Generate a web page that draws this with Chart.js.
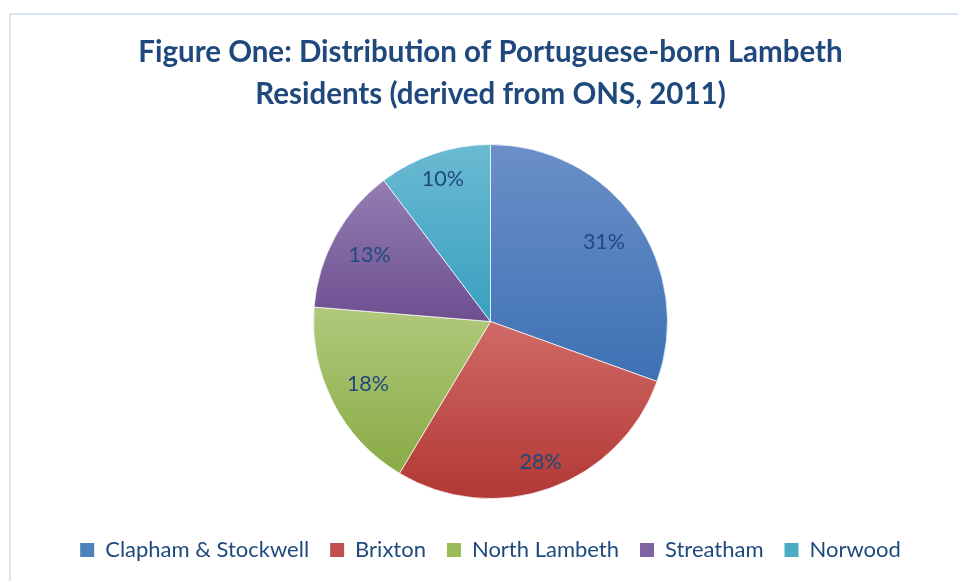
<!DOCTYPE html>
<html>
<head>
<meta charset="utf-8">
<script src="https://cdn.jsdelivr.net/npm/chart.js@4.4.1/dist/chart.umd.min.js"></script>
<style>
    body { margin: 0; background: #fff; overflow: hidden; }
    #wrap { position: relative; width: 958px; height: 581px; }
    #frame { position: absolute; left: 9px; top: 13px; width: 1000px; height: 700px; border: 2px solid #dce6f2; box-sizing: border-box; }
</style>
</head>
<body>
<div id="wrap">
    <div id="frame"></div>
    <canvas id="pieChart"></canvas>
</div>
<script>
// areas and their share of Portuguese-born residents
const areas = ["Clapham & Stockwell", "Brixton", "North Lambeth", "Streatham", "Norwood"];
const shares = [30.5, 28.1, 17.7, 13.4, 10.3];

const baseColours = ["#4f81bd", "#c0504d", "#9bbb59", "#8064a2", "#4bacc6"];
const topColours = ["#6b8fc8", "#d06a66", "#b0c97c", "#937eb2", "#6bbad2"];
const bottomColours = ["#3d71b4", "#b23834", "#89ab45", "#6d4f90", "#38a0c0"];

const textBlue = "#1f497d";
const pieRadius = 177;

function sliceAngles(i) {
    const total = shares.reduce(function (a, b) { return a + b; }, 0);
    let start = -Math.PI / 2;
    for (let k = 0; k < i; k++) {
        start += shares[k] / total * Math.PI * 2;
    }
    return [start, start + shares[i] / total * Math.PI * 2];
}

// each slice gets its own top-to-bottom gradient, like the office chart
function sliceGradient(context) {
    const chart = context.chart;
    const area = chart.chartArea;
    if (!area) {
        return baseColours[context.dataIndex];
    }
    const i = context.dataIndex;
    const cx = (area.left + area.right) / 2;
    const cy = (area.top + area.bottom) / 2;
    const a = sliceAngles(i);
    let ys = [cy, cy + pieRadius * Math.sin(a[0]), cy + pieRadius * Math.sin(a[1])];
    // does the arc pass the top or bottom of the circle?
    [-Math.PI / 2, Math.PI / 2, Math.PI * 1.5].forEach(function (t) {
        if (t > a[0] && t < a[1]) {
            ys.push(cy + pieRadius * Math.sin(t));
        }
    });
    const y0 = Math.min.apply(null, ys);
    const y1 = Math.max.apply(null, ys);
    const g = chart.ctx.createLinearGradient(0, y0, 0, y1);
    g.addColorStop(0, topColours[i]);
    g.addColorStop(1, bottomColours[i]);
    return g;
}

const percentLabels = {
    id: "percentLabels",
    afterDatasetsDraw: function (chart) {
        const ctx = chart.ctx;
        const meta = chart.getDatasetMeta(0);
        const total = shares.reduce(function (a, b) { return a + b; }, 0);
        ctx.save();
        ctx.font = "21.5px Lato";
        ctx.fillStyle = textBlue;
        ctx.textAlign = "center";
        ctx.textBaseline = "middle";
        meta.data.forEach(function (arc, i) {
            const mid = (arc.startAngle + arc.endAngle) / 2;
            const ux = Math.cos(mid);
            const uy = Math.sin(mid);
            const d = (arc.outerRadius - 8) - (Math.abs(ux) * 30 + Math.abs(uy) * 10);
            ctx.fillText(Math.round(shares[i] / total * 100) + "%", arc.x + d * ux, arc.y + d * uy);
        });
        ctx.restore();
    }
};

new Chart(document.getElementById("pieChart"), {
    type: "pie",
    data: {
        labels: areas,
        datasets: [{
            data: shares,
            backgroundColor: sliceGradient,
            borderColor: "rgba(255,255,255,0.7)",
            borderWidth: 1,
            radius: pieRadius
        }]
    },
    options: {
        responsive: true,
        maintainAspectRatio: false,
        animation: false,
        layout: {
            padding: { left: 23, right: 0, top: 0, bottom: 10 }
        },
        plugins: {
            title: {
                display: true,
                text: ["Figure One: Distribution of Portuguese-born Lambeth", "Residents (derived from ONS, 2011)"],
                color: textBlue,
                font: { family: "Lato", size: 29.5, weight: "bold", lineHeight: 1.424 },
                padding: { top: 31, bottom: 10 }
            },
            legend: {
                position: "bottom",
                labels: {
                    color: textBlue,
                    font: { family: "Lato", size: 22 },
                    boxWidth: 14,
                    boxHeight: 14,
                    padding: 21,
                    generateLabels: function (chart) {
                        return areas.map(function (name, i) {
                            return {
                                text: name,
                                fillStyle: baseColours[i],
                                strokeStyle: baseColours[i],
                                lineWidth: 0,
                                fontColor: textBlue,
                                index: i
                            };
                        });
                    }
                }
            },
            tooltip: { enabled: false }
        }
    },
    plugins: [percentLabels]
});
</script>
</body>
</html>
